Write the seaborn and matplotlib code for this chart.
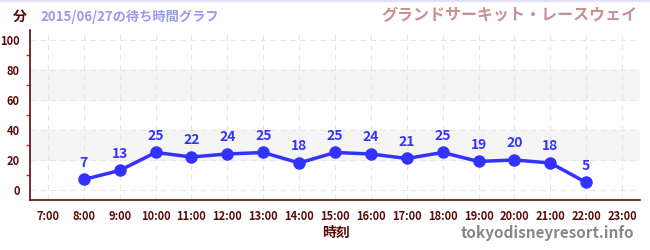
import matplotlib
matplotlib.use("Agg")
import matplotlib.pyplot as plt
from matplotlib.ticker import MultipleLocator
import numpy as np
import pandas as pd
import seaborn as sns

hours = [8, 9, 10, 11, 12, 13, 14, 15, 16, 17, 18, 19, 20, 21, 22]
waits = [7, 13, 25, 22, 24, 25, 18, 25, 24, 21, 25, 19, 20, 18, 5]
tick_hours = list(range(7, 24))
tick_labels = [f"{h}:00" for h in tick_hours]

df = pd.DataFrame({"hour": hours, "wait": waits})

sns.set_theme(style="white")
plt.rcParams['font.family'] = ['Noto Sans CJK JP', 'DejaVu Sans']
plt.rcParams['font.weight'] = 'bold'

dark = '#5a0a0a'
blue = '#3333ff'

fig = plt.figure(figsize=(6.5, 2.5), dpi=100)
ax = fig.add_axes([30 / 650, 50 / 250, 610 / 650, 170 / 250])

# shaded bands
for lo, hi in [(20, 40), (60, 80)]:
    ax.axhspan(lo, hi, color='#f5f5f5', zorder=0)

sns.lineplot(data=df, x='hour', y='wait', ax=ax, color=blue, linewidth=2.5,
             marker='o', markersize=9, markeredgewidth=0, zorder=3)

for h, w in zip(hours, waits):
    ax.annotate(str(w), (h, w), xytext=(0, 7), textcoords='offset points',
                ha='center', va='bottom', color=blue, fontsize=10, fontweight='bold')

ax.set_xlim(6.5, 23.5)
ax.set_ylim(-6.7, 106.7)
ax.set_xticks(tick_hours)
ax.set_xticklabels(tick_labels)
ax.set_yticks([0, 20, 40, 60, 80, 100])
ax.yaxis.set_minor_locator(MultipleLocator(10))
ax.tick_params(axis='both', which='major', labelsize=8, colors=dark, length=4,
               direction='out', width=1)
ax.tick_params(axis='x', which='major', color='#333333')
ax.tick_params(axis='y', which='major', color='#222222')
ax.tick_params(axis='y', which='minor', color='#dd2222', length=3, width=1, left=True)
for lab in ax.get_xticklabels() + ax.get_yticklabels():
    lab.set_fontweight('bold')
    lab.set_color(dark)

ax.grid(True, which='major', color='#e6e6e6', linestyle=(0, (5, 4)), linewidth=0.8)
ax.set_axisbelow(True)

for s in ['top', 'right']:
    ax.spines[s].set_visible(False)
ax.spines['left'].set_color(dark)
ax.spines['bottom'].set_color(dark)
ax.spines['left'].set_linewidth(1.2)
ax.spines['bottom'].set_linewidth(1.2)

ax.set_xlabel('')
ax.set_ylabel('')

fig.text(20 / 650, 1 - 17 / 250, '分', color=dark, fontsize=10, fontweight='bold',
         ha='center', va='center')
fig.text(40 / 650, 1 - 17 / 250, '2015/06/27の待ち時間グラフ', color='#9999ee',
         fontsize=9.5, fontweight='bold', ha='left', va='center')
fig.text(638 / 650, 1 - 15 / 250, 'グランドサーキット・レースウェイ', color='#c99090',
         fontsize=11.5, fontweight='bold', ha='right', va='center')
fig.text(336 / 650, 1 - 233 / 250, '時刻', color=dark, fontsize=10,
         fontweight='bold', ha='center', va='center')
fig.text(634 / 650, 1 - 233 / 250, 'tokyodisneyresort.info', color='#888888',
         fontsize=11, fontweight='bold', ha='right', va='center')

fig.add_artist(plt.Line2D([0, 1], [0.998, 0.998], color='#e0e0f8', linewidth=1.5,
                          transform=fig.transFigure))

fig.savefig('out.png', dpi=100)
